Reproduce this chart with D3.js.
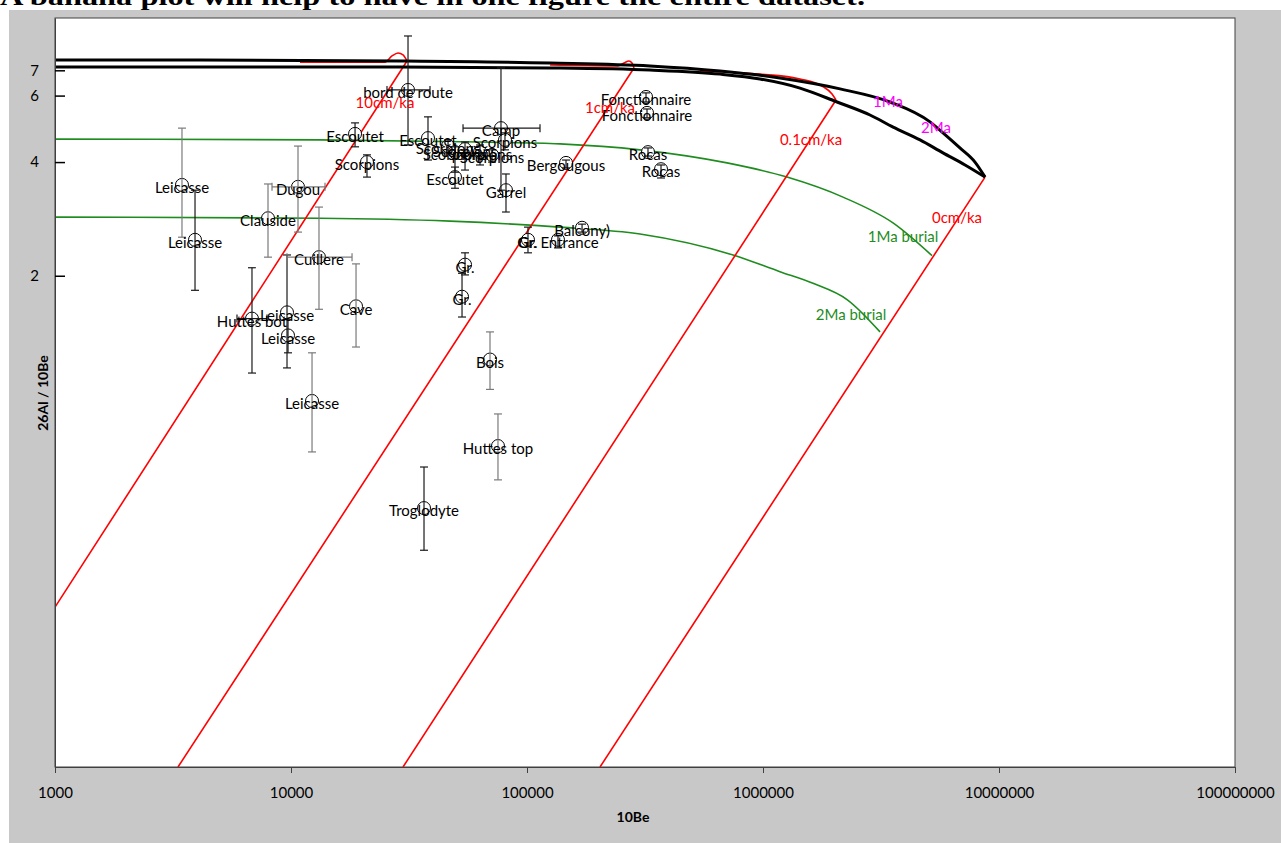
<!DOCTYPE html>
<html>
<head>
<meta charset="utf-8">
<script src="https://cdn.jsdelivr.net/npm/d3@7"></script>
<style>
  html, body { margin: 0; padding: 0; background: #fff; }
  svg { display: block; }
</style>
</head>
<body>
<svg id="chart" width="1281" height="843"></svg>
<script>
// ---------- tick values ----------
const xTickValues = [1e3, 1e4, 1e5, 1e6, 1e7, 1e8];
const yTickValues = [2, 4, 6, 7];

// ---------- reference curves: [10Be, 26Al/10Be] ----------
const constantExposure = [
  [1000, 7.45], [4115, 7.45], [28970, 7.41], [125200, 7.32], [332000, 7.19],
  [657400, 6.97], [1.18e6, 6.68], [2.12e6, 6.25], [3.45e6, 5.77], [5.10e6, 5.11],
  [5.79e6, 4.78], [6.83e6, 4.36], [7.91e6, 4.00], [8.73e6, 3.65]
];
const steadyErosion = [
  [1000, 7.14], [4115, 7.14], [28970, 7.14], [125200, 7.10], [332000, 7.01],
  [657400, 6.84], [971000, 6.64], [1.435e6, 6.28], [2.06e6, 5.77], [2.84e6, 5.33],
  [3.56e6, 4.95], [4.63e6, 4.58], [5.79e6, 4.23], [7.18e6, 3.93], [8.73e6, 3.65]
];
const burial1Ma = [
  [1000, 4.60], [13270, 4.58], [63220, 4.52], [137950, 4.47], [301200, 4.31],
  [703900, 3.98], [1.264e6, 3.65], [2.183e6, 3.23], [3.555e6, 2.76], [5.203e6, 2.26]
];
const burial2Ma = [
  [1000, 2.86], [13270, 2.84], [47190, 2.79], [137950, 2.69], [301200, 2.58],
  [746400, 2.27], [1.18e6, 2.05], [1.629e6, 1.91], [2.27e6, 1.73], [3.133e6, 1.42]
];

// erosion-rate trajectories: exposure arc, then burial line down to its end point
const erosionRates = ["10cm/ka", "1cm/ka", "0.1cm/ka", "0cm/ka"];
const erosionArcs = [
  [[10917, 7.36], [25020, 7.36], [26790, 7.64], [28410, 7.78], [29830, 7.69], [31010, 7.41]],
  [[125200, 7.23], [243000, 7.19], [257600, 7.32], [270500, 7.41], [278500, 7.32], [284000, 7.10]],
  [[540800, 6.97], [971100, 6.84], [1.435e6, 6.64], [1.778e6, 6.36], [1.961e6, 6.06], [2.039e6, 5.84]],
  [[8.726e6, 3.65]]
];
const erosionLineEnds = [[1000, 0.265], [3320, 0.1], [29830, 0.1], [203900, 0.1]];
const erosionLabelAt = [[25020, 5.73], [224700, 5.56], [1.598e6, 4.58], [6.637e6, 2.84]];

const burialLabels = ["1Ma burial", "2Ma burial"];
const burialLabelAt = [[3.92e6, 2.53], [2.36e6, 1.574]];
const exposureLabels = ["1Ma", "2Ma"];
const exposureLabelAt = [[3.386e6, 5.77], [5.41e6, 4.92]];

// ---------- samples: [name, 10Be, ratio, ratio low, ratio high, 10Be low, 10Be high] ----------
const samplesA = [
  ["Leicasse", 3920, 2.49, 1.83, 3.37, null, null],
  ["Escoutet", 18680, 4.75, 4.39, 5.08, null, null],
  ["Scorpions", 20990, 4.00, 3.65, 4.18, null, null],
  ["bord de route", 31320, 6.21, 4.44, 8.63, 25510, 38810],
  ["Escoutet", 38060, 4.63, 4.05, 5.27, null, null],
  ["Scorpions", 46290, 4.41, 4.23, 4.58, null, null],
  ["Scorpions", 49530, 4.25, 3.76, 4.39, null, null],
  ["Scorpions", 54630, 4.33, 3.81, 4.52, null, null],
  ["Scorpions", 63220, 4.25, 3.93, 4.44, null, null],
  ["Scorpions", 71090, 4.18, 4.00, 4.31, null, null],
  ["Scorpions", 80670, 4.58, 4.31, 4.78, null, null],
  ["Camp", 77580, 4.92, 3.37, 7.10, 53570, 113530],
  ["Escoutet", 49530, 3.65, 3.41, 3.88, null, null],
  ["Garrel", 81470, 3.37, 2.95, 3.72, null, null],
  ["Bergougous", 146330, 3.98, 3.86, 4.05, null, null],
  ["Fonctionnaire", 319400, 5.95, 5.77, 6.10, null, null],
  ["Fonctionnaire", 322500, 5.40, 5.24, 5.53, null, null],
  ["Rocas", 325600, 4.25, 4.15, 4.36, null, null],
  ["Rocas", 369700, 3.83, 3.63, 3.93, null, null],
  ["Balcony)", 171100, 2.68, 2.61, 2.74, null, null],
  ["Gr.", 100970, 2.49, 2.30, 2.69, null, null],
  ["Gr. Entrance", 135300, 2.49, 2.37, 2.55, null, null],
  ["Gr.", 54630, 2.14, 2.01, 2.30, null, null],
  ["Gr.", 53050, 1.76, 1.555, 2.03, null, null],
  ["Troglodyte", 36610, 0.485, 0.375, 0.623, null, null],
  ["Huttes bot", 6834, 1.54, 1.105, 2.10, 5904, 7910],
  ["Leicasse", 9618, 1.60, 1.14, 2.27, null, null],
  ["Leicasse", 9712, 1.39, 1.25, 1.53, null, null]
];
const samplesB = [
  ["Leicasse", 3452, 3.48, 2.53, 4.92, null, null],
  ["Clauside", 7990, 2.84, 2.24, 3.50, null, null],
  ["Dugou", 10707, 3.44, 2.61, 4.41, 8309, 13936],
  ["Cuillere", 13140, 2.24, 1.63, 3.04, 9618, 18140],
  ["Cave", 18860, 1.66, 1.295, 2.15, null, null],
  ["Leicasse", 12277, 0.932, 0.683, 1.25, null, null],
  ["Bois", 69700, 1.20, 1.00, 1.42, null, null],
  ["Huttes top", 75340, 0.708, 0.576, 0.861, null, null]
];

// ---------- layout ----------
const W = 1281, H = 843;
const plot = { left: 55, right: 1235, top: 18, bottom: 767 };
const FONT = "Lato, 'Open Sans', sans-serif";

const svg = d3.select("#chart");

const x = d3.scaleLog().domain([1e3, 1e8]).range([plot.left, plot.right]);
const y = d3.scaleLog().domain([0.1, 9.63]).range([plot.bottom, plot.top]);

// page heading (clipped by the top edge)
svg.append("text")
  .attr("x", 0).attr("y", 5)
  .attr("textLength", 865).attr("lengthAdjust", "spacingAndGlyphs")
  .style("font-family", "'Liberation Serif', 'DejaVu Serif', serif")
  .style("font-weight", "bold").style("font-size", "25px")
  .text("A banana plot will help to have in one figure the entire dataset.");

// chart area background
svg.append("rect").attr("x", 9).attr("y", 10).attr("width", W - 9).attr("height", H - 10)
  .attr("fill", "#c8c8c8");

svg.append("rect")
  .attr("x", plot.left).attr("y", plot.top)
  .attr("width", plot.right - plot.left).attr("height", plot.bottom - plot.top)
  .attr("fill", "#fff").attr("stroke", "#404040").attr("stroke-width", 1);

svg.append("clipPath").attr("id", "plotClip").append("rect")
  .attr("x", plot.left).attr("y", plot.top)
  .attr("width", plot.right - plot.left).attr("height", plot.bottom - plot.top);

const g = svg.append("g").attr("clip-path", "url(#plotClip)");

const smooth = d3.line().x(d => x(d[0])).y(d => y(d[1])).curve(d3.curveMonotoneX);
const straight = d3.line().x(d => x(d[0])).y(d => y(d[1]));

// burial isochrons
[burial1Ma, burial2Ma].forEach(c => {
  g.append("path").attr("d", smooth(c)).attr("fill", "none")
    .attr("stroke", "#1f8c1f").attr("stroke-width", 1.6);
});

// erosion-rate trajectories
erosionArcs.forEach((arc, i) => {
  if (arc.length > 1) {
    g.append("path").attr("d", smooth(arc)).attr("fill", "none")
      .attr("stroke", "#ff0000").attr("stroke-width", 1.6);
  }
  g.append("path").attr("d", straight([arc[arc.length - 1], erosionLineEnds[i]]))
    .attr("fill", "none").attr("stroke", "#ff0000").attr("stroke-width", 1.6);
});

// constant exposure and steady erosion curves
[constantExposure, steadyErosion].forEach(c => {
  g.append("path").attr("d", smooth(c)).attr("fill", "none")
    .attr("stroke", "#000").attr("stroke-width", 3);
});

// samples
function drawSamples(rows, barColor) {
  const sg = g.append("g");
  rows.forEach(r => {
    const [name, be, ratio] = r;
    sg.append("circle").attr("cx", x(be)).attr("cy", y(ratio)).attr("r", 6.5)
      .attr("fill", "#fff").attr("stroke", "#000").attr("stroke-width", 1);
  });
  rows.forEach(r => {
    const [name, be, ratio, lo, hi, beLo, beHi] = r;
    const cx = x(be), cy = y(ratio);
    const bar = sg.append("g").attr("stroke", barColor).attr("stroke-width", 1.2);
    bar.append("line").attr("x1", cx).attr("x2", cx).attr("y1", y(lo)).attr("y2", y(hi));
    [lo, hi].forEach(v => bar.append("line")
      .attr("x1", cx - 4).attr("x2", cx + 4).attr("y1", y(v)).attr("y2", y(v)));
    if (beLo != null) {
      bar.append("line").attr("x1", x(beLo)).attr("x2", x(beHi)).attr("y1", cy).attr("y2", cy);
      [beLo, beHi].forEach(v => bar.append("line")
        .attr("x1", x(v)).attr("x2", x(v)).attr("y1", cy - 4).attr("y2", cy + 4));
    }
  });
  return sg;
}
drawSamples(samplesA, "#1a1a1a");
drawSamples(samplesB, "#7a7a7a");

[...samplesA, ...samplesB].forEach(r => {
  g.append("text")
    .attr("x", x(r[1])).attr("y", y(r[2]) + 3).attr("dy", "0.35em")
    .attr("text-anchor", "middle")
    .style("font-family", FONT).style("font-size", "15px").attr("fill", "#000")
    .text(r[0]);
});

// curve labels
function curveLabels(names, at, color) {
  names.forEach((t, i) => {
    g.append("text")
      .attr("x", x(at[i][0])).attr("y", y(at[i][1])).attr("dy", "0.35em")
      .attr("text-anchor", "middle")
      .style("font-family", FONT).style("font-size", "15px").attr("fill", color)
      .text(t);
  });
}
curveLabels(erosionRates, erosionLabelAt, "#ff0000");
curveLabels(burialLabels, burialLabelAt, "#1f8c1f");
curveLabels(exposureLabels, exposureLabelAt, "#ff00ff");

// axes
const xAxis = d3.axisBottom(x).tickValues(xTickValues).tickFormat(d3.format("d"))
  .tickSizeInner(6).tickSizeOuter(0).tickPadding(14);
const xg = svg.append("g").attr("transform", `translate(0,${plot.bottom})`).call(xAxis);
xg.select(".domain").attr("stroke", "#404040");
xg.selectAll(".tick line").attr("stroke", "#404040");
xg.selectAll("text").style("font-family", FONT).style("font-size", "15px").attr("fill", "#000");

const yAxis = d3.axisLeft(y).tickValues(yTickValues).tickFormat(d3.format("d"))
  .tickSizeInner(-10).tickSizeOuter(0).tickPadding(16);
const yg = svg.append("g").attr("transform", `translate(${plot.left},0)`).call(yAxis);
yg.select(".domain").attr("stroke", "#404040");
yg.selectAll(".tick line").attr("stroke", "#000").attr("stroke-width", 1.5);
yg.selectAll("text").style("font-family", FONT).style("font-size", "15px").attr("fill", "#000");

svg.append("text").attr("x", 633).attr("y", 817).attr("dy", "0.35em")
  .attr("text-anchor", "middle").style("font-family", FONT).style("font-size", "14px")
  .style("font-weight", "bold").text("10Be");

svg.append("text").attr("transform", "translate(43,393) rotate(-90)").attr("dy", "0.35em")
  .attr("text-anchor", "middle").style("font-family", FONT).style("font-size", "14px")
  .style("font-weight", "bold").text("26Al / 10Be");
</script>
</body>
</html>
